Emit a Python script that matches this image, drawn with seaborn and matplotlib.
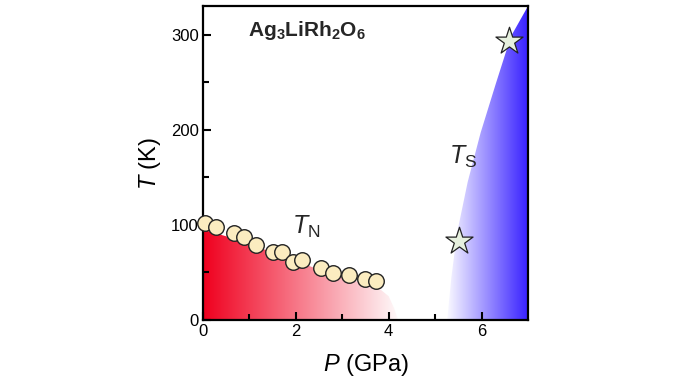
import numpy as np
import pandas as pd
import seaborn as sns
import matplotlib.pyplot as plt
from matplotlib.patches import Polygon
from matplotlib.colors import LinearSegmentedColormap

# T_N data (circles)
tn_p = [0.04, 0.28, 0.67, 0.89, 1.14, 1.50, 1.70, 1.94, 2.14, 2.54, 2.80, 3.15, 3.48, 3.73]
tn_t = [102, 98, 91, 87, 79, 71, 72, 61, 63, 55, 49, 47, 43, 41]

# T_S data (stars)
ts_p = [5.51, 6.60]
ts_t = [83, 293]

# boundary of the red (AFM) region
red_p = [0.0, 0.5, 1.0, 1.5, 2.0, 2.5, 3.0, 3.5, 3.8, 4.0, 4.12, 4.2]
red_t = [95, 88, 80, 71, 62, 53, 45, 38, 33, 25, 12, 0]

# left boundary of the blue region
blue_p = [5.26, 5.35, 5.47, 5.7, 5.98, 6.31, 6.63, 7.0]
blue_t = [0, 45, 91, 145, 197, 249, 298, 330]

sns.set_style('ticks')
plt.rcParams['font.family'] = ['Liberation Sans', 'DejaVu Sans']
plt.rcParams['mathtext.fontset'] = 'custom'
plt.rcParams['mathtext.rm'] = 'Liberation Sans'
plt.rcParams['mathtext.it'] = 'Liberation Sans:italic'
plt.rcParams['mathtext.bf'] = 'Liberation Sans:bold'

fig = plt.figure(figsize=(6.8, 3.81), dpi=100)
ax = fig.add_axes([0.2985, 0.160, 0.478, 0.824])
ax.set_axisbelow(False)

# red gradient region
red_cmap = LinearSegmentedColormap.from_list('r', [(0.94, 0.0, 0.12), (1, 1, 1)])
grad = np.linspace(0, 1, 256).reshape(1, -1)
im = ax.imshow(grad, cmap=red_cmap, extent=[0, 4.3, 0, 100], aspect='auto', zorder=1)
poly = Polygon(list(zip(red_p, red_t)) + [(0, 0)], closed=True, transform=ax.transData)
im.set_clip_path(poly)

# blue gradient region
blue_cmap = LinearSegmentedColormap.from_list('b', [(1, 1, 1), (0.22, 0.13, 1.0)])
im2 = ax.imshow(grad, cmap=blue_cmap, extent=[5.22, 7.0, 0, 330], aspect='auto', zorder=1)
poly2 = Polygon(list(zip(blue_p, blue_t)) + [(7.0, 0)], closed=True,
                transform=ax.transData)
im2.set_clip_path(poly2)

sns.scatterplot(x=tn_p, y=tn_t, ax=ax, s=125, color='#fbecc0', edgecolor='#222222',
                linewidth=1.0, zorder=3, clip_on=False)
sns.scatterplot(x=ts_p, y=ts_t, ax=ax, s=420, marker='*', color='#e6f0de',
                edgecolor='#222222', linewidth=0.9, zorder=3)

ax.set_xlim(0, 7)
ax.set_ylim(0, 330)
ax.set_xticks([0, 2, 4, 6])
ax.set_xticks([1, 3, 5], minor=True)
ax.set_yticks([0, 100, 200, 300])
ax.set_yticks([50, 150, 250], minor=True)
ax.tick_params(which='both', direction='in', width=1.5, labelsize=12,
               colors='black', pad=3)
ax.tick_params(which='major', length=6)
ax.tick_params(which='minor', length=4)
for s in ax.spines.values():
    s.set_linewidth(1.6)
    s.set_color('black')

ax.set_xlabel(r'$P$ (GPa)', fontsize=17, labelpad=9, color='black')
ax.set_ylabel(r'$T$ (K)', fontsize=17, labelpad=6, color='black')

ax.text(0.97, 304, r'$\mathbf{Ag_3LiRh_2O_6}$', fontsize=15, va='center', ha='left')
ax.text(1.92, 98, r'$T_{\mathrm{N}}$', fontsize=18, va='center', ha='left')
ax.text(5.3, 172, r'$T_{\mathrm{S}}$', fontsize=18, va='center', ha='left')

fig.savefig('out.png', dpi=100)
